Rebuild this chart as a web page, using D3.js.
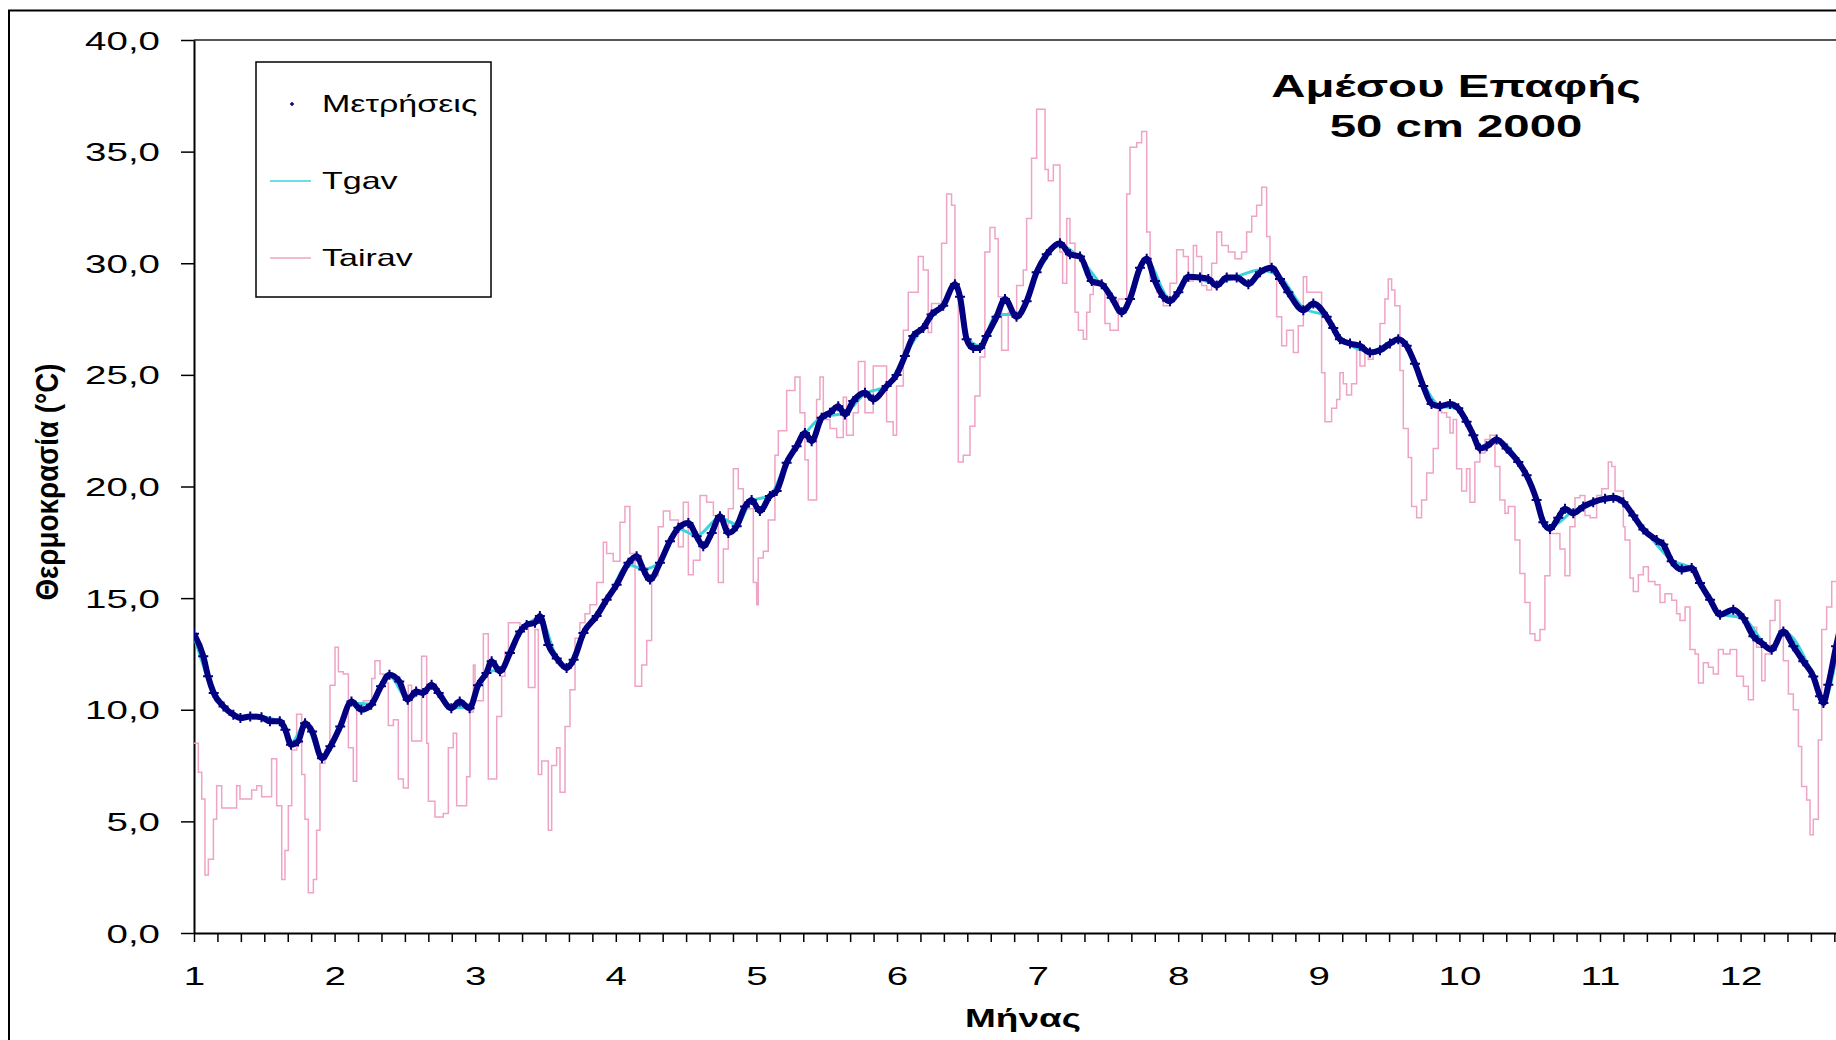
<!DOCTYPE html>
<meta charset="utf-8">
<style>
body { margin: 0; background: #fff; }
svg { display: block; }
text { font-family: "Liberation Sans", Arial, sans-serif; fill: #000; }
</style>
<svg width="1836" height="1040"></svg>
<script src="https://d3js.org/d3.v7.min.js"></script>
<script>

// tick values
var monthTicks = [1, 2, 3, 4, 5, 6, 7, 8, 9, 10, 11, 12];
var tempTicks = [0, 5, 10, 15, 20, 25, 30, 35, 40];

// Μετρήσεις (measured soil temperature), [month, °C]
var measured = [
  [1.00,13.4],[1.066,12.4],[1.10,11.5],[1.14,10.75],[1.21,10.15],[1.28,9.78],[1.33,9.63],[1.40,9.7],
  [1.48,9.66],[1.54,9.48],[1.61,9.48],[1.65,9.1],[1.69,8.43],[1.74,8.58],[1.79,9.4],[1.84,9.03],
  [1.91,7.83],[1.97,8.36],[2.04,9.25],[2.12,10.37],[2.19,10.0],[2.26,10.22],[2.33,11.05],[2.39,11.57],
  [2.46,11.27],[2.52,10.45],[2.58,10.82],[2.63,10.75],[2.69,11.12],[2.74,10.75],[2.83,10.07],[2.89,10.37],
  [2.96,10.07],[3.02,11.1],[3.08,11.65],[3.117,12.17],[3.176,11.72],[3.247,12.54],[3.319,13.5],[3.366,13.8],
  [3.425,13.9],[3.46,14.2],[3.52,12.9],[3.58,12.3],[3.65,11.87],[3.70,12.24],[3.77,13.44],[3.864,14.2],
  [3.935,14.93],[4.006,15.6],[4.09,16.58],[4.148,16.88],[4.196,16.28],[4.243,15.83],[4.314,16.58],[4.385,17.55],
  [4.445,18.15],[4.516,18.37],[4.575,17.77],[4.622,17.32],[4.682,17.92],[4.741,18.67],[4.80,17.92],[4.86,18.22],
  [4.919,19.1],[4.966,19.4],[5.025,18.9],[5.096,19.57],[5.144,19.8],[5.215,21.06],[5.286,21.8],[5.345,22.4],
  [5.393,22.03],[5.464,23.08],[5.523,23.3],[5.582,23.6],[5.63,23.23],[5.689,23.83],[5.772,24.2],[5.831,23.9],
  [5.926,24.5],[5.997,25.0],[6.056,25.84],[6.116,26.74],[6.187,27.1],[6.246,27.7],[6.329,28.1],[6.412,29.06],
  [6.448,28.5],[6.495,26.6],[6.542,26.2],[6.59,26.2],[6.637,26.74],[6.708,27.6],[6.768,28.4],[6.85,27.6],
  [6.922,28.3],[6.993,29.6],[7.065,30.4],[7.159,30.9],[7.23,30.4],[7.302,30.3],[7.385,29.2],[7.456,29.06],
  [7.527,28.46],[7.598,27.8],[7.657,28.4],[7.728,29.8],[7.776,30.2],[7.835,29.2],[7.894,28.5],[7.942,28.3],
  [8.001,28.7],[8.072,29.4],[8.155,29.36],[8.214,29.3],[8.274,29.0],[8.345,29.36],[8.416,29.36],[8.499,29.06],
  [8.582,29.6],[8.665,29.8],[8.724,29.3],[8.783,28.7],[8.89,27.9],[8.961,28.2],[9.056,27.6],[9.103,27.1],
  [9.15,26.6],[9.222,26.4],[9.293,26.3],[9.364,26.0],[9.435,26.1],[9.506,26.4],[9.565,26.6],[9.625,26.3],
  [9.684,25.5],[9.743,24.5],[9.802,23.7],[9.862,23.6],[9.933,23.7],[9.992,23.5],[10.051,22.9],[10.099,22.3],
  [10.146,21.7],[10.194,21.8],[10.265,22.1],[10.336,21.7],[10.419,21.1],[10.478,20.5],[10.549,19.4],[10.597,18.4],
  [10.644,18.1],[10.703,18.6],[10.751,19.0],[10.81,18.8],[10.881,19.1],[10.952,19.3],[11.036,19.45],[11.095,19.5],
  [11.166,19.3],[11.237,18.7],[11.308,18.07],[11.403,17.6],[11.45,17.4],[11.51,16.65],[11.581,16.28],[11.652,16.35],
  [11.711,15.68],[11.783,14.93],[11.854,14.26],[11.948,14.48],[12.02,14.1],[12.091,13.29],[12.15,12.99],[12.221,12.69],
  [12.304,13.51],[12.375,12.84],[12.446,12.17],[12.517,11.49],[12.565,10.6],[12.589,10.3],[12.624,11.12],[12.679,12.84],
  [12.72,14.0]
];

// Tgav (model), [month, °C] - runs almost on top of the measurements
var tgav = [
  [1.00,13.3],[1.10,11.4],[1.21,10.2],[1.33,9.65],[1.48,9.68],[1.61,9.45],[1.69,8.5],[1.79,9.35],
  [1.91,7.9],[2.04,9.3],[2.12,10.3],[2.26,10.25],[2.39,11.5],[2.52,10.5],[2.69,11.05],[2.83,10.1],
  [2.96,10.1],[3.08,11.7],[3.176,11.8],[3.319,13.45],[3.46,14.1],[3.58,12.35],[3.65,11.95],[3.77,13.5],
  [3.935,14.9],[4.09,16.5],[4.196,16.3],[4.314,16.6],[4.445,18.1],[4.575,17.8],[4.741,18.6],[4.86,18.3],
  [4.966,19.35],[5.096,19.6],[5.215,21.1],[5.345,22.35],[5.464,23.1],[5.63,23.3],[5.772,24.15],[5.926,24.5],
  [6.056,25.9],[6.187,27.15],[6.329,28.2],[6.412,29.0],[6.495,26.7],[6.59,26.3],[6.708,27.7],[6.85,27.7],
  [6.993,29.5],[7.159,30.8],[7.302,30.2],[7.456,29.0],[7.598,27.9],[7.776,30.1],[7.942,28.4],[8.072,29.4],
  [8.274,29.1],[8.416,29.4],[8.582,29.7],[8.724,29.4],[8.89,28.0],[9.056,27.6],[9.15,26.7],[9.364,26.05],
  [9.565,26.6],[9.743,24.6],[9.862,23.6],[9.992,23.5],[10.146,21.8],[10.265,22.1],[10.478,20.5],[10.644,18.2],
  [10.81,18.9],[10.952,19.3],[11.095,19.5],[11.308,18.1],[11.51,16.7],[11.652,16.3],[11.854,14.3],[12.02,14.1],
  [12.221,12.7],[12.304,13.5],[12.517,11.5],[12.589,10.4],[12.72,14.0]
];

// Tairav (daily mean air temperature), step starts [month, °C]
var tairav = [
  [1.0,8.5],[1.031,7.2],[1.055,6.0],[1.078,2.6],[1.102,3.3],[1.138,5.1],[1.161,6.6],[1.197,5.6],
  [1.303,6.6],[1.327,6.0],[1.41,6.4],[1.446,6.6],[1.481,6.1],[1.552,7.8],[1.588,5.7],[1.624,2.4],
  [1.647,3.7],[1.671,5.7],[1.695,8.2],[1.73,9.8],[1.766,7.1],[1.789,5.1],[1.813,1.8],[1.849,2.4],
  [1.872,4.6],[1.896,7.6],[1.932,8.2],[1.967,11.1],[2.003,12.8],[2.027,11.7],[2.062,11.6],[2.098,8.3],
  [2.133,6.8],[2.157,10.1],[2.204,10.4],[2.264,11.4],[2.287,12.2],[2.323,11.6],[2.347,11.2],[2.382,9.3],
  [2.418,9.55],[2.453,6.9],[2.489,6.5],[2.524,11.1],[2.548,8.6],[2.619,12.4],[2.655,8.5],[2.667,5.9],
  [2.714,5.2],[2.773,5.35],[2.809,8.3],[2.844,8.95],[2.868,5.7],[2.939,7.0],[2.963,9.9],[2.987,12.0],
  [2.999,10.4],[3.058,13.4],[3.093,6.9],[3.153,9.7],[3.188,11.5],[3.212,12.6],[3.236,13.9],[3.319,13.7],
  [3.378,11.0],[3.425,13.6],[3.449,7.1],[3.473,7.7],[3.52,4.6],[3.544,7.5],[3.579,8.3],[3.603,6.3],
  [3.639,9.25],[3.674,10.9],[3.71,13.2],[3.745,13.9],[3.781,14.3],[3.816,14.7],[3.864,15.7],[3.911,17.5],
  [3.935,17.0],[3.982,16.65],[4.03,18.4],[4.065,19.1],[4.10,17.0],[4.137,11.05],[4.184,12.0],[4.22,13.1],
  [4.255,16.0],[4.302,18.2],[4.338,18.9],[4.385,18.5],[4.445,17.3],[4.48,19.3],[4.516,16.05],[4.551,16.7],
  [4.599,19.6],[4.646,19.3],[4.694,18.7],[4.729,15.7],[4.765,17.2],[4.80,19.0],[4.836,20.8],[4.871,19.9],
  [4.907,19.0],[4.978,15.7],[5.002,14.7],[5.013,16.8],[5.049,17.1],[5.084,18.5],[5.132,21.4],[5.156,22.5],
  [5.215,24.3],[5.274,24.9],[5.31,23.3],[5.345,21.2],[5.369,19.4],[5.428,23.9],[5.452,24.9],[5.476,23.0],
  [5.523,22.6],[5.571,22.2],[5.618,24.0],[5.641,22.3],[5.689,23.3],[5.725,25.6],[5.772,23.3],[5.831,25.4],
  [5.926,22.9],[5.973,22.3],[5.997,24.5],[6.045,27.0],[6.08,28.7],[6.151,30.3],[6.187,29.7],[6.222,26.9],
  [6.246,28.2],[6.317,30.9],[6.353,33.1],[6.388,32.6],[6.412,29.0],[6.436,21.1],[6.471,21.4],[6.519,22.7],
  [6.554,24.05],[6.59,25.8],[6.625,30.5],[6.661,31.6],[6.697,31.1],[6.72,28.5],[6.744,26.1],[6.791,27.8],
  [6.851,29.0],[6.898,29.7],[6.922,32.0],[6.957,34.7],[6.993,36.9],[7.053,34.2],[7.076,33.7],[7.112,34.4],
  [7.159,30.5],[7.178,29.1],[7.207,32.0],[7.23,30.9],[7.266,27.8],[7.29,27.0],[7.325,26.6],[7.349,27.8],
  [7.373,28.6],[7.396,29.0],[7.479,27.3],[7.515,27.0],[7.574,28.4],[7.634,33.1],[7.657,35.2],[7.705,35.4],
  [7.74,35.9],[7.776,31.4],[7.80,29.3],[7.847,28.7],[7.894,28.1],[7.942,29.1],[7.989,30.6],[8.037,30.3],
  [8.072,29.2],[8.108,30.8],[8.131,30.3],[8.167,29.0],[8.203,28.8],[8.238,30.0],[8.274,31.4],[8.309,30.8],
  [8.357,30.5],[8.404,30.2],[8.451,30.5],[8.487,31.4],[8.523,32.1],[8.558,32.6],[8.594,33.4],[8.629,31.2],
  [8.653,29.6],[8.70,27.6],[8.736,26.3],[8.771,27.0],[8.819,26.0],[8.854,27.2],[8.89,29.4],[8.914,28.7],
  [8.961,28.7],[9.02,25.1],[9.044,22.9],[9.091,23.5],[9.127,23.9],[9.15,25.1],[9.174,24.6],[9.198,24.1],
  [9.233,24.6],[9.269,26.1],[9.293,25.4],[9.328,26.0],[9.352,25.7],[9.387,26.1],[9.435,27.3],[9.47,28.4],
  [9.494,29.3],[9.518,28.8],[9.541,28.1],[9.577,25.2],[9.601,22.6],[9.636,21.3],[9.66,19.1],[9.696,18.6],
  [9.731,19.4],[9.767,20.6],[9.814,21.7],[9.85,23.75],[9.873,23.3],[9.909,23.1],[9.933,22.4],[9.956,23.0],
  [9.98,20.8],[10.016,19.8],[10.051,20.8],[10.075,19.3],[10.11,21.1],[10.146,21.5],[10.182,22.1],[10.217,22.3],
  [10.253,20.9],[10.288,19.4],[10.324,18.8],[10.348,19.1],[10.395,17.6],[10.43,16.1],[10.466,14.8],[10.502,13.4],
  [10.537,13.1],[10.573,13.6],[10.608,16.0],[10.644,17.9],[10.715,17.2],[10.751,16.0],[10.786,18.2],[10.822,19.5],
  [10.857,19.6],[10.893,18.7],[10.929,18.6],[10.976,19.6],[11.012,19.9],[11.059,21.1],[11.083,20.9],[11.107,19.8],
  [11.166,18.2],[11.178,17.6],[11.213,15.9],[11.237,15.3],[11.273,16.05],[11.308,16.4],[11.344,15.75],[11.391,15.6],
  [11.427,14.8],[11.462,15.2],[11.51,14.9],[11.545,14.3],[11.569,14.0],[11.605,14.6],[11.64,12.7],[11.676,12.5],
  [11.70,11.2],[11.735,12.1],[11.771,11.9],[11.806,11.6],[11.842,12.7],[11.877,12.5],[11.925,12.7],[11.972,11.5],
  [12.02,11.05],[12.055,10.45],[12.091,13.7],[12.114,12.8],[12.15,11.3],[12.174,12.5],[12.209,14.0],[12.245,14.9],
  [12.28,13.4],[12.304,12.2],[12.34,10.7],[12.375,10.0],[12.411,8.35],[12.434,6.56],[12.47,5.96],[12.494,4.4],
  [12.517,5.1],[12.553,8.65],[12.577,13.6],[12.612,14.6],[12.648,15.75],[12.72,15.75]
];

var width = 1836,
    height = 1040,
    sx = 1.48;   // the original picture is stretched sideways

var svg = d3.select("svg");

var x = d3.scaleLinear().domain([1, 13]).range([194, 194 + 12 * 140.6]);
var y = d3.scaleLinear().domain([0, 40]).range([933, 40]);

function stretched(sel, tx, ty) {
  return sel.attr("transform", "translate(" + tx + "," + ty + ") scale(" + sx + ",1)");
}

// outer frame
svg.append("rect")
    .attr("x", 9).attr("y", 10.5)
    .attr("width", width).attr("height", height)
    .attr("fill", "none").attr("stroke", "#000").attr("stroke-width", 2);

// top border of the plot area
svg.append("line")
    .attr("x1", x(1)).attr("x2", width)
    .attr("y1", y(40)).attr("y2", y(40))
    .attr("stroke", "#555").attr("stroke-width", 2);

// y axis
var fmt = function(d) { return d3.format(".1f")(d).replace(".", ","); };
var yAxis = svg.append("g")
    .attr("transform", "translate(" + x(1) + ",0)")
    .call(d3.axisLeft(y).tickValues(tempTicks).tickSize(13).tickSizeOuter(0).tickFormat(fmt));
yAxis.select(".domain").attr("stroke", "#000").attr("stroke-width", 2);
yAxis.selectAll(".tick line").attr("stroke", "#000").attr("stroke-width", 1.5);
yAxis.selectAll(".tick text")
    .attr("x", null).attr("dy", null)
    .attr("font-size", 26)
    .attr("text-anchor", "end")
    .each(function() { stretched(d3.select(this), -34, 9); });

// x axis: minor ticks every 1/6 month, labels at whole months
var minorTicks = d3.range(0, 73).map(function(i) { return 1 + i / 6; });
var xAxis = svg.append("g")
    .attr("transform", "translate(0," + y(0) + ")")
    .call(d3.axisBottom(x).tickValues(minorTicks).tickSize(9).tickSizeOuter(0).tickFormat(""));
xAxis.select(".domain").attr("stroke", "#000").attr("stroke-width", 2);
xAxis.selectAll(".tick line").attr("stroke", "#000").attr("stroke-width", 1.5);

var xLabels = svg.append("g")
    .attr("transform", "translate(0," + y(0) + ")")
    .call(d3.axisBottom(x).tickValues(monthTicks).tickSize(0).tickFormat(d3.format("d")));
xLabels.select(".domain").remove();
xLabels.selectAll(".tick text")
    .attr("y", null).attr("dy", null)
    .attr("font-size", 26)
    .attr("text-anchor", "middle")
    .each(function() { stretched(d3.select(this), 0, 52); });

// axis titles
stretched(svg.append("text"), 1023, 1027)
    .attr("text-anchor", "middle")
    .attr("font-size", 25).attr("font-weight", "bold")
    .text("Μήνας");

svg.append("text")
    .attr("transform", "translate(58,482) scale(1.3,1) rotate(-90)")
    .attr("text-anchor", "middle")
    .attr("font-size", 24).attr("font-weight", "bold")
    .attr("textLength", 237).attr("lengthAdjust", "spacingAndGlyphs")
    .text("Θερμοκρασία (°C)");

// chart title
stretched(svg.append("text"), 1456, 97)
    .attr("text-anchor", "middle")
    .attr("font-size", 32).attr("font-weight", "bold")
    .text("Αμέσου Επαφής");
stretched(svg.append("text"), 1456, 137)
    .attr("text-anchor", "middle")
    .attr("font-size", 32).attr("font-weight", "bold")
    .text("50 cm 2000");

// series
var line = d3.line()
    .x(function(d) { return x(d[0]); })
    .y(function(d) { return y(d[1]); });

svg.append("clipPath").attr("id", "plot")
  .append("rect")
    .attr("x", x(1)).attr("y", y(40))
    .attr("width", width - x(1)).attr("height", y(0) - y(40));

var plot = svg.append("g").attr("clip-path", "url(#plot)");

plot.append("path")
    .datum(tairav)
    .attr("fill", "none")
    .attr("stroke", "#efa3c5")
    .attr("stroke-width", 1.5)
    .attr("d", line.curve(d3.curveStepAfter));

plot.append("path")
    .datum(tgav)
    .attr("fill", "none")
    .attr("stroke", "#3ad4dc")
    .attr("stroke-width", 3)
    .attr("d", line.curve(d3.curveMonotoneX));

plot.append("path")
    .datum(measured)
    .attr("fill", "none")
    .attr("stroke", "#000080")
    .attr("stroke-width", 6)
    .attr("d", line.curve(d3.curveMonotoneX));

plot.selectAll(".meas")
    .data(measured)
    .enter().append("path")
    .attr("class", "meas")
    .attr("transform", function(d) { return "translate(" + x(d[0]) + "," + y(d[1]) + ")"; })
    .attr("d", "M-5,0H5M0,-5V5")
    .attr("stroke", "#000080")
    .attr("stroke-width", 2);

// legend
var legend = svg.append("g");
legend.append("rect")
    .attr("x", 256).attr("y", 62)
    .attr("width", 235).attr("height", 235)
    .attr("fill", "#fff").attr("stroke", "#000").attr("stroke-width", 1.5);

var legendItems = [
  { name: "Μετρήσεις", y: 104, kind: "mark", color: "#000080" },
  { name: "Tgav", y: 181, kind: "line", color: "#3ad4dc" },
  { name: "Tairav", y: 258, kind: "line", color: "#efa3c5" }
];

legendItems.forEach(function(d) {
  if (d.kind == "mark") {
    legend.append("path")
        .attr("transform", "translate(292," + d.y + ")")
        .attr("d", "M-2,0H2M0,-2V2")
        .attr("stroke", d.color).attr("stroke-width", 1.5);
  } else {
    legend.append("line")
        .attr("x1", 270).attr("x2", 311)
        .attr("y1", d.y).attr("y2", d.y)
        .attr("stroke", d.color).attr("stroke-width", 1.6);
  }
  stretched(legend.append("text"), 322, d.y + 8)
      .attr("font-size", 23)
      .text(d.name);
});

</script>
